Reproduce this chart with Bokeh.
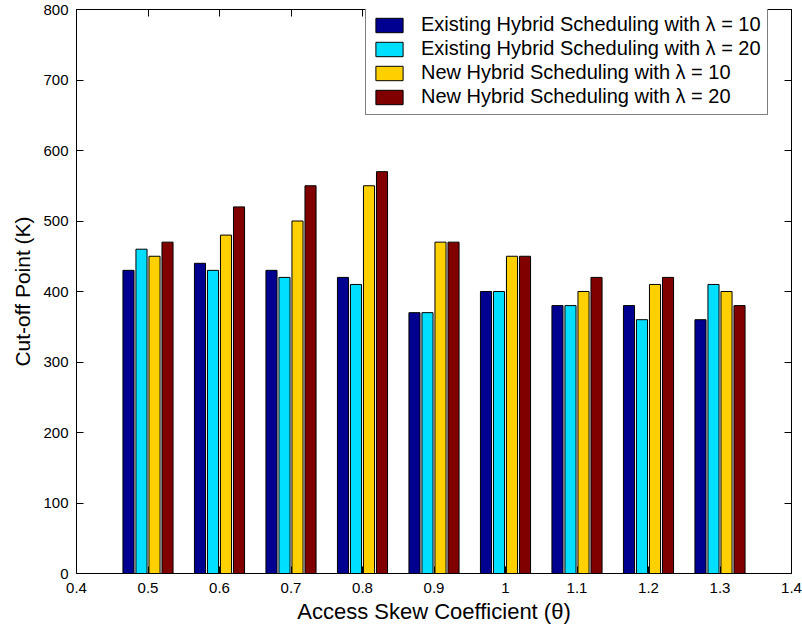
from bokeh.plotting import figure
from bokeh.models import (ColumnDataSource, Range1d, LinearAxis, FixedTicker,
                          Legend, LegendItem)
from bokeh.transform import dodge
from bokeh.embed import file_html
from bokeh.resources import INLINE

# ---- data ----
theta = [0.5, 0.6, 0.7, 0.8, 0.9, 1.0, 1.1, 1.2, 1.3]
existing_l10 = [430, 440, 430, 420, 370, 400, 380, 380, 360]
existing_l20 = [460, 430, 420, 410, 370, 400, 380, 360, 410]
new_l10 = [450, 480, 500, 550, 470, 450, 400, 410, 400]
new_l20 = [470, 520, 550, 570, 470, 450, 420, 420, 380]

series_names = [
    "Existing Hybrid Scheduling with \u03bb = 10",
    "Existing Hybrid Scheduling with \u03bb = 20",
    "New Hybrid Scheduling with \u03bb = 10",
    "New Hybrid Scheduling with \u03bb = 20",
]
x_ticks = [0.4, 0.5, 0.6, 0.7, 0.8, 0.9, 1.0, 1.1, 1.2, 1.3, 1.4]
x_tick_labels = ["0.4", "0.5", "0.6", "0.7", "0.8", "0.9", "1", "1.1", "1.2", "1.3", "1.4"]
y_ticks = [0, 100, 200, 300, 400, 500, 600, 700, 800]

# ---- styles ----
colors = ["#000090", "#00DFFF", "#FFD000", "#800000"]
offsets = [-0.0273, -0.0091, 0.0091, 0.0273]
bar_w = 0.0155
FONT = "Liberation Sans"

source = ColumnDataSource(dict(theta=theta, e10=existing_l10, e20=existing_l20,
                               n10=new_l10, n20=new_l20))
cols = ["e10", "e20", "n10", "n20"]

p = figure(width=802, height=626, output_backend="svg", toolbar_location=None,
           x_range=Range1d(0.4, 1.4), y_range=Range1d(0, 800),
           min_border_left=76, min_border_right=11, min_border_top=9,
           min_border_bottom=53)
p.xgrid.visible = False
p.ygrid.visible = False
p.outline_line_color = "black"
p.outline_line_width = 1
p.background_fill_color = "white"
p.border_fill_color = "white"

renderers = []
for c, off, col in zip(cols, offsets, colors):
    r = p.vbar(x=dodge("theta", off), top=c, width=bar_w, bottom=0,
               source=source, fill_color=col, line_color="black", line_width=1)
    renderers.append(r)

def style_axis(ax, ticks, show_labels):
    ax.ticker = FixedTicker(ticks=ticks)
    ax.major_tick_in = 7
    ax.major_tick_out = 0
    ax.minor_tick_line_color = None
    ax.axis_line_color = "black"
    ax.major_tick_line_color = "black"
    ax.major_label_text_font = FONT
    if show_labels:
        ax.major_label_text_font_size = "15px"
        ax.major_label_text_color = "black"
    else:
        ax.major_label_text_font_size = "0px"
        ax.major_label_text_color = None
        ax.major_label_standoff = 0

xa = p.xaxis[0]
style_axis(xa, x_ticks, True)
xa.major_label_overrides = {t: l for t, l in zip(x_ticks, x_tick_labels)}
xa.major_label_standoff = 9
xa.axis_label = "Access Skew Coefficient (\u03b8)"
xa.axis_label_text_font = FONT
xa.axis_label_text_font_size = "22px"
xa.axis_label_text_font_style = "normal"
xa.axis_label_text_color = "black"
xa.axis_label_standoff = 3

ya = p.yaxis[0]
style_axis(ya, y_ticks, True)
ya.major_label_standoff = 8
ya.axis_label = "Cut-off Point (K)"
ya.axis_label_text_font = FONT
ya.axis_label_text_font_size = "21px"
ya.axis_label_text_font_style = "normal"
ya.axis_label_text_color = "black"
ya.axis_label_standoff = 6

top_ax = LinearAxis()
style_axis(top_ax, x_ticks, False)
p.add_layout(top_ax, "above")
right_ax = LinearAxis()
style_axis(right_ax, y_ticks, False)
p.add_layout(right_ax, "right")

legend = Legend(items=[LegendItem(label=n, renderers=[r]) for n, r in zip(series_names, renderers)],
                location=(289, 458))
legend.label_text_font = FONT
legend.label_text_font_size = "20px"
legend.label_text_color = "black"
legend.glyph_width = 34
legend.glyph_height = 18
legend.label_height = 18
legend.spacing = 1
legend.padding = 6
legend.margin = 0
legend.label_standoff = 15
legend.border_line_color = "black"
legend.border_line_width = 1
legend.background_fill_color = "white"
legend.background_fill_alpha = 1
p.add_layout(legend, "center")

open("out.html", "w").write(file_html(p, INLINE))
